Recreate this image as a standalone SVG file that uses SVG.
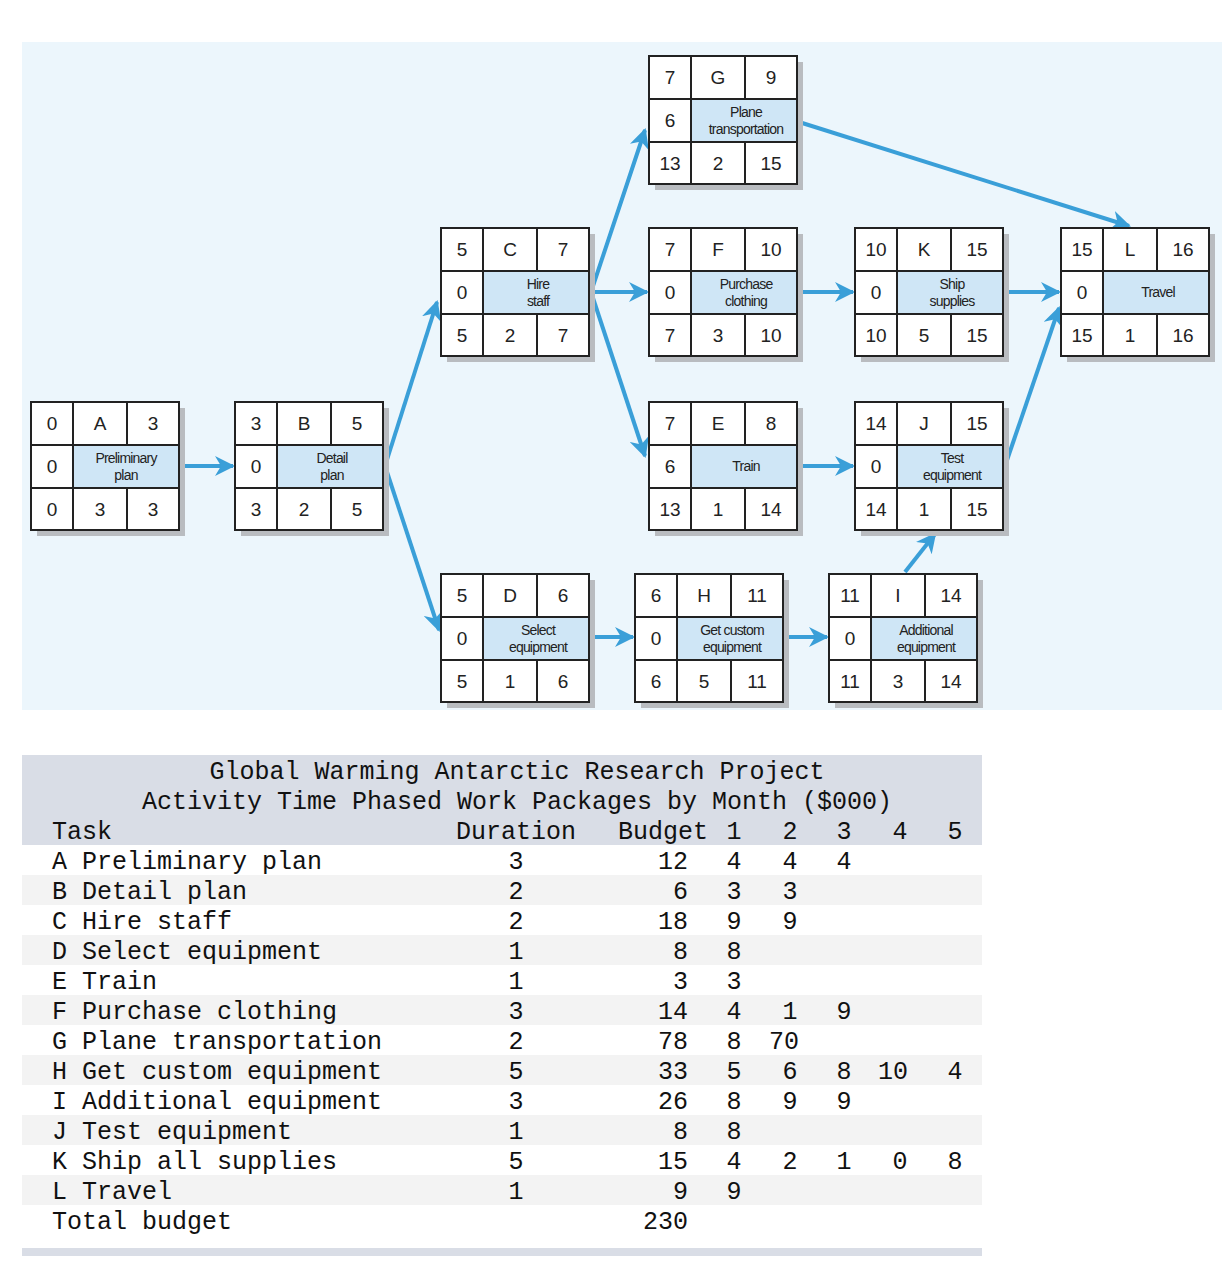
<svg xmlns="http://www.w3.org/2000/svg" width="1232" height="1276" viewBox="0 0 1232 1276">
<style>
.c{fill:#fff;stroke:#222;stroke-width:2}
.d{fill:#cfe6f6;stroke:#222;stroke-width:2}
.s{fill:#b9bcc0}
.n{font-family:"Liberation Sans",Arial,sans-serif;font-size:19px;fill:#222;text-anchor:middle}
.l{font-family:"Liberation Sans",Arial,sans-serif;font-size:14px;fill:#222;text-anchor:middle;letter-spacing:-0.8px}
.a{stroke:#3a9fd8;stroke-width:4;fill:none;marker-end:url(#h)}
.t{font-family:"Liberation Mono","Courier New",monospace;font-size:25px;fill:#111}
.e{text-anchor:end}.m{text-anchor:middle}
</style>
<defs>
<marker id="h" viewBox="0 0 10 10" refX="9" refY="5" markerWidth="5" markerHeight="5" orient="auto" markerUnits="strokeWidth"><path d="M0,0L10,5L0,10L3,5z" fill="#3a9fd8"/></marker>
<g id="box">
<rect class="s" x="6" y="6" width="148" height="128"/>
<rect class="c" x="0" y="0" width="148" height="128"/>
<rect class="d" x="42" y="43" width="106" height="43"/>
<line x1="0" y1="43" x2="148" y2="43" stroke="#222" stroke-width="2"/>
<line x1="0" y1="86" x2="148" y2="86" stroke="#222" stroke-width="2"/>
<line x1="42" y1="0" x2="42" y2="128" stroke="#222" stroke-width="2"/>
<line x1="96" y1="0" x2="96" y2="43" stroke="#222" stroke-width="2"/>
<line x1="96" y1="86" x2="96" y2="128" stroke="#222" stroke-width="2"/>
</g>
</defs>
<rect x="22" y="42" width="1200" height="668" fill="#ecf6fc"/>
<g id="connectors">
<line class="a" x1="179" y1="466" x2="233" y2="466"/>
<line class="a" x1="385" y1="466" x2="437" y2="302"/>
<line class="a" x1="385" y1="466" x2="439" y2="630"/>
<line class="a" x1="591" y1="292" x2="645" y2="130"/>
<line class="a" x1="591" y1="292" x2="647" y2="292"/>
<line class="a" x1="591" y1="292" x2="645" y2="456"/>
<line class="a" x1="799" y1="122" x2="1129" y2="226"/>
<line class="a" x1="799" y1="292" x2="853" y2="292"/>
<line class="a" x1="1005" y1="292" x2="1059" y2="292"/>
<line class="a" x1="799" y1="466" x2="853" y2="466"/>
<line class="a" x1="1005" y1="466" x2="1059" y2="308"/>
<line class="a" x1="591" y1="637" x2="633" y2="637"/>
<line class="a" x1="785" y1="637" x2="827" y2="637"/>
<line class="a" x1="905" y1="572" x2="935" y2="534"/>
</g>
<g id="nA" transform="translate(31,402)"><use href="#box"/><text class="n" x="21" y="28">0</text><text class="n" x="69" y="28">A</text><text class="n" x="122" y="28">3</text><text class="n" x="21" y="71">0</text><text class="l" x="95" y="61">Preliminary</text><text class="l" x="95" y="78">plan</text><text class="n" x="21" y="114">0</text><text class="n" x="69" y="114">3</text><text class="n" x="122" y="114">3</text></g>
<g id="nB" transform="translate(235,402)"><use href="#box"/><text class="n" x="21" y="28">3</text><text class="n" x="69" y="28">B</text><text class="n" x="122" y="28">5</text><text class="n" x="21" y="71">0</text><text class="l" x="97" y="61">Detail</text><text class="l" x="97" y="78">plan</text><text class="n" x="21" y="114">3</text><text class="n" x="69" y="114">2</text><text class="n" x="122" y="114">5</text></g>
<g id="nC" transform="translate(441,228)"><use href="#box"/><text class="n" x="21" y="28">5</text><text class="n" x="69" y="28">C</text><text class="n" x="122" y="28">7</text><text class="n" x="21" y="71">0</text><text class="l" x="97" y="61">Hire</text><text class="l" x="97" y="78">staff</text><text class="n" x="21" y="114">5</text><text class="n" x="69" y="114">2</text><text class="n" x="122" y="114">7</text></g>
<g id="nD" transform="translate(441,574)"><use href="#box"/><text class="n" x="21" y="28">5</text><text class="n" x="69" y="28">D</text><text class="n" x="122" y="28">6</text><text class="n" x="21" y="71">0</text><text class="l" x="97" y="61">Select</text><text class="l" x="97" y="78">equipment</text><text class="n" x="21" y="114">5</text><text class="n" x="69" y="114">1</text><text class="n" x="122" y="114">6</text></g>
<g id="nG" transform="translate(649,56)"><use href="#box"/><text class="n" x="21" y="28">7</text><text class="n" x="69" y="28">G</text><text class="n" x="122" y="28">9</text><text class="n" x="21" y="71">6</text><text class="l" x="97" y="61">Plane</text><text class="l" x="97" y="78">transportation</text><text class="n" x="21" y="114">13</text><text class="n" x="69" y="114">2</text><text class="n" x="122" y="114">15</text></g>
<g id="nF" transform="translate(649,228)"><use href="#box"/><text class="n" x="21" y="28">7</text><text class="n" x="69" y="28">F</text><text class="n" x="122" y="28">10</text><text class="n" x="21" y="71">0</text><text class="l" x="97" y="61">Purchase</text><text class="l" x="97" y="78">clothing</text><text class="n" x="21" y="114">7</text><text class="n" x="69" y="114">3</text><text class="n" x="122" y="114">10</text></g>
<g id="nE" transform="translate(649,402)"><use href="#box"/><text class="n" x="21" y="28">7</text><text class="n" x="69" y="28">E</text><text class="n" x="122" y="28">8</text><text class="n" x="21" y="71">6</text><text class="l" x="97" y="69">Train</text><text class="n" x="21" y="114">13</text><text class="n" x="69" y="114">1</text><text class="n" x="122" y="114">14</text></g>
<g id="nH" transform="translate(635,574)"><use href="#box"/><text class="n" x="21" y="28">6</text><text class="n" x="69" y="28">H</text><text class="n" x="122" y="28">11</text><text class="n" x="21" y="71">0</text><text class="l" x="97" y="61">Get custom</text><text class="l" x="97" y="78">equipment</text><text class="n" x="21" y="114">6</text><text class="n" x="69" y="114">5</text><text class="n" x="122" y="114">11</text></g>
<g id="nK" transform="translate(855,228)"><use href="#box"/><text class="n" x="21" y="28">10</text><text class="n" x="69" y="28">K</text><text class="n" x="122" y="28">15</text><text class="n" x="21" y="71">0</text><text class="l" x="97" y="61">Ship</text><text class="l" x="97" y="78">supplies</text><text class="n" x="21" y="114">10</text><text class="n" x="69" y="114">5</text><text class="n" x="122" y="114">15</text></g>
<g id="nJ" transform="translate(855,402)"><use href="#box"/><text class="n" x="21" y="28">14</text><text class="n" x="69" y="28">J</text><text class="n" x="122" y="28">15</text><text class="n" x="21" y="71">0</text><text class="l" x="97" y="61">Test</text><text class="l" x="97" y="78">equipment</text><text class="n" x="21" y="114">14</text><text class="n" x="69" y="114">1</text><text class="n" x="122" y="114">15</text></g>
<g id="nI" transform="translate(829,574)"><use href="#box"/><text class="n" x="21" y="28">11</text><text class="n" x="69" y="28">I</text><text class="n" x="122" y="28">14</text><text class="n" x="21" y="71">0</text><text class="l" x="97" y="61">Additional</text><text class="l" x="97" y="78">equipment</text><text class="n" x="21" y="114">11</text><text class="n" x="69" y="114">3</text><text class="n" x="122" y="114">14</text></g>
<g id="nL" transform="translate(1061,228)"><use href="#box"/><text class="n" x="21" y="28">15</text><text class="n" x="69" y="28">L</text><text class="n" x="122" y="28">16</text><text class="n" x="21" y="71">0</text><text class="l" x="97" y="69">Travel</text><text class="n" x="21" y="114">15</text><text class="n" x="69" y="114">1</text><text class="n" x="122" y="114">16</text></g>
<g id="table">
<rect x="22" y="755" width="960" height="90" fill="#d9dde6"/>
<rect x="22" y="875" width="960" height="30" fill="#f3f3f3"/>
<rect x="22" y="935" width="960" height="30" fill="#f3f3f3"/>
<rect x="22" y="995" width="960" height="30" fill="#f3f3f3"/>
<rect x="22" y="1055" width="960" height="30" fill="#f3f3f3"/>
<rect x="22" y="1115" width="960" height="30" fill="#f3f3f3"/>
<rect x="22" y="1175" width="960" height="30" fill="#f3f3f3"/>
<rect x="22" y="1248" width="960" height="8" fill="#d9dde6"/>
<text class="t m" x="517" y="779">Global Warming Antarctic Research Project</text>
<text class="t m" x="517" y="809">Activity Time Phased Work Packages by Month ($000)</text>
<text class="t" x="52" y="839">Task</text><text class="t m" x="516" y="839">Duration</text><text class="t e" x="708" y="839">Budget</text>
<text class="t m" x="734" y="839">1</text><text class="t m" x="790" y="839">2</text><text class="t m" x="844" y="839">3</text><text class="t m" x="900" y="839">4</text><text class="t m" x="955" y="839">5</text>
<g class="t">
<text x="52" y="869">A Preliminary plan</text><text x="52" y="899">B Detail plan</text><text x="52" y="929">C Hire staff</text><text x="52" y="959">D Select equipment</text><text x="52" y="989">E Train</text><text x="52" y="1019">F Purchase clothing</text><text x="52" y="1049">G Plane transportation</text><text x="52" y="1079">H Get custom equipment</text><text x="52" y="1109">I Additional equipment</text><text x="52" y="1139">J Test equipment</text><text x="52" y="1169">K Ship all supplies</text><text x="52" y="1199">L Travel</text><text x="52" y="1229">Total budget</text>
</g>
<g class="t m">
<text x="516" y="869">3</text><text x="516" y="899">2</text><text x="516" y="929">2</text><text x="516" y="959">1</text><text x="516" y="989">1</text><text x="516" y="1019">3</text><text x="516" y="1049">2</text><text x="516" y="1079">5</text><text x="516" y="1109">3</text><text x="516" y="1139">1</text><text x="516" y="1169">5</text><text x="516" y="1199">1</text>
</g>
<g class="t e">
<text x="688" y="869">12</text><text x="688" y="899">6</text><text x="688" y="929">18</text><text x="688" y="959">8</text><text x="688" y="989">3</text><text x="688" y="1019">14</text><text x="688" y="1049">78</text><text x="688" y="1079">33</text><text x="688" y="1109">26</text><text x="688" y="1139">8</text><text x="688" y="1169">15</text><text x="688" y="1199">9</text><text x="688" y="1229">230</text>
</g>
<g class="t m">
<text x="734" y="869">4</text><text x="790" y="869">4</text><text x="844" y="869">4</text>
<text x="734" y="899">3</text><text x="790" y="899">3</text>
<text x="734" y="929">9</text><text x="790" y="929">9</text>
<text x="734" y="959">8</text>
<text x="734" y="989">3</text>
<text x="734" y="1019">4</text><text x="790" y="1019">1</text><text x="844" y="1019">9</text>
<text x="734" y="1049">8</text><text x="784" y="1049">70</text>
<text x="734" y="1079">5</text><text x="790" y="1079">6</text><text x="844" y="1079">8</text><text x="893" y="1079">10</text><text x="955" y="1079">4</text>
<text x="734" y="1109">8</text><text x="790" y="1109">9</text><text x="844" y="1109">9</text>
<text x="734" y="1139">8</text>
<text x="734" y="1169">4</text><text x="790" y="1169">2</text><text x="844" y="1169">1</text><text x="900" y="1169">0</text><text x="955" y="1169">8</text>
<text x="734" y="1199">9</text>
</g>
</g>
</svg>
